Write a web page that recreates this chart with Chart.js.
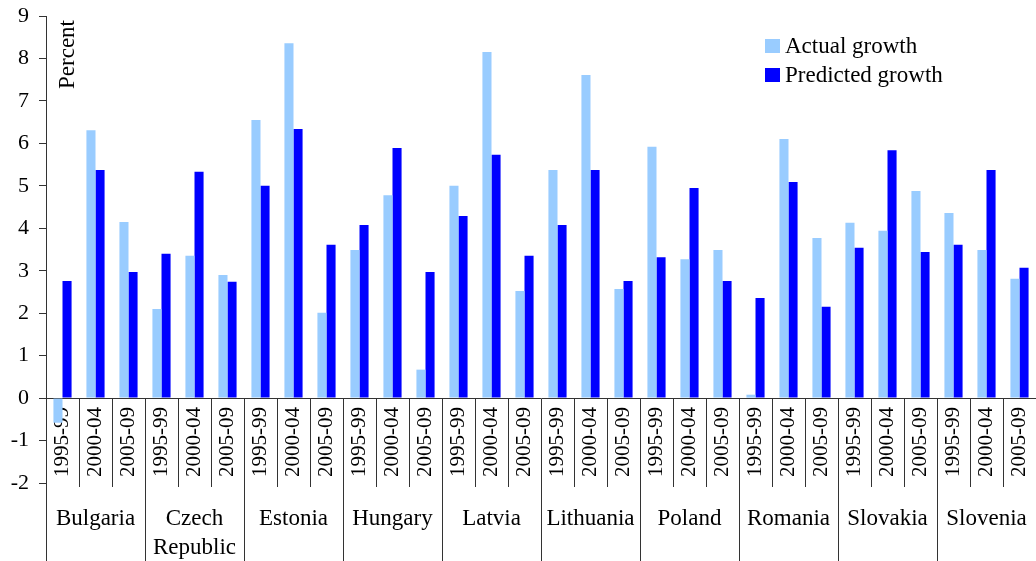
<!DOCTYPE html>
<html>
<head>
<meta charset="utf-8">
<script src="https://cdn.jsdelivr.net/npm/chart.js@4/dist/chart.umd.min.js"></script>
<style>
  body { margin: 0; background: #fff; }
  #wrap { position: relative; width: 1036px; height: 561px; }
  #legend { position: absolute; left: 765px; top: 31px; font-family: "Liberation Serif", "Times New Roman", serif; font-size: 23px; color: #000; }
  #legend div { display: flex; align-items: center; height: 29px; }
  #legend span.box { display: inline-block; width: 15px; height: 14px; margin-right: 5px; }
</style>
</head>
<body>
<div id="wrap">
  <canvas id="growthChart"></canvas>
  <div id="legend"></div>
</div>
<script>
// ---------- data ----------
const countries = ["Bulgaria", ["Czech", "Republic"], "Estonia", "Hungary", "Latvia",
                   "Lithuania", "Poland", "Romania", "Slovakia", "Slovenia"];
const periods = ["1995-99", "2000-04", "2005-09"];
const actualGrowth = [-0.58, 6.31, 4.15, 2.10, 3.35, 2.90, 6.55, 8.36, 2.01, 3.49,
                      4.78, 0.67, 5.00, 8.15, 2.52, 5.37, 7.61, 2.57, 5.92, 3.27,
                      3.49, 0.08, 6.10, 3.77, 4.13, 3.94, 4.88, 4.36, 3.49, 2.81];
const predictedGrowth = [2.76, 5.37, 2.97, 3.40, 5.33, 2.74, 5.00, 6.34, 3.61, 4.08,
                         5.89, 2.97, 4.29, 5.73, 3.35, 4.08, 5.37, 2.76, 3.32, 4.95,
                         2.76, 2.36, 5.09, 2.15, 3.54, 5.84, 3.44, 3.61, 5.37, 3.07];
const yTicks = [-2, -1, 0, 1, 2, 3, 4, 5, 6, 7, 8, 9];

// one category per country/period pair
const labels = [];
countries.forEach(() => periods.forEach(p => labels.push(p)));

const serif = "'Liberation Serif', 'Times New Roman', serif";
const lineColor = "#333";

// "Percent" text inside the plot area
const percentLabel = {
    id: "percentLabel",
    afterDraw(chart) {
        const ctx = chart.ctx;
        const area = chart.chartArea;
        ctx.save();
        ctx.translate(area.left + 22, area.top + 4);
        ctx.rotate(-Math.PI / 2);
        ctx.font = "23px " + serif;
        ctx.fillStyle = "#000";
        ctx.textAlign = "right";
        ctx.textBaseline = "middle";
        ctx.fillText("Percent", 0, 0);
        ctx.restore();
    }
};

const chart = new Chart(document.getElementById("growthChart"), {
    type: "bar",
    data: {
        labels: labels,
        datasets: [{
            label: "Actual growth",
            data: actualGrowth,
            backgroundColor: "#99CCFF"
        }, {
            label: "Predicted growth",
            data: predictedGrowth,
            backgroundColor: "#0000FF"
        }]
    },
    plugins: [percentLabel],
    options: {
        responsive: true,
        maintainAspectRatio: false,
        animation: false,
        layout: { padding: { top: 16, right: 0, left: 0, bottom: 0 } },
        datasets: { bar: { barPercentage: 1, categoryPercentage: 0.55 } },
        plugins: { legend: { display: false }, tooltip: { enabled: false } },
        scales: {
            x: {
                type: "category",
                position: { y: 0 },
                z: 1,
                offset: true,
                grid: { offset: true, drawOnChartArea: false, drawTicks: true, tickLength: 88, color: lineColor },
                border: { display: true, color: lineColor },
                ticks: {
                    autoSkip: false, minRotation: 90, maxRotation: 90, padding: -79,
                    color: "#000", font: { family: serif, size: 21 }
                },
                afterFit(scale) { scale.paddingTop = 0; scale.paddingBottom = 0; }
            },
            x2: {
                type: "category",
                labels: countries,
                position: "bottom",
                offset: true,
                grid: { offset: true, drawOnChartArea: false, drawTicks: true, tickLength: 78, color: lineColor },
                border: { display: false },
                ticks: {
                    autoSkip: false, maxRotation: 0, padding: -56,
                    color: "#000", font: { family: serif, size: 23, lineHeight: 1.25 }
                },
                afterFit(scale) { scale.height = 78; }
            },
            y: {
                min: -2,
                max: 9,
                afterBuildTicks(scale) { scale.ticks = yTicks.map(v => ({ value: v })); },
                grid: { drawOnChartArea: false, drawTicks: true, tickLength: 7, color: lineColor },
                border: { display: true, color: lineColor },
                ticks: { padding: 10, color: "#000", font: { family: serif, size: 22 } },
                afterFit(scale) { scale.width = 46; scale.paddingTop = 0; scale.paddingBottom = 0; }
            }
        }
    }
});

// legend built from the datasets
const legendEl = document.getElementById("legend");
chart.data.datasets.forEach(ds => {
    const row = document.createElement("div");
    row.innerHTML = '<span class="box" style="background:' + ds.backgroundColor + '"></span>' + ds.label;
    legendEl.appendChild(row);
});
</script>
</body>
</html>
